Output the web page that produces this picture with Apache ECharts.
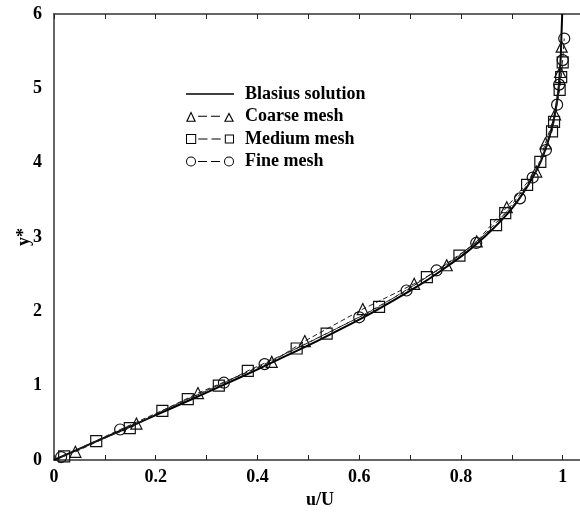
<!DOCTYPE html>
<html>
<head>
<meta charset="utf-8">
<script src="https://cdn.jsdelivr.net/npm/echarts@6/dist/echarts.min.js"></script>
<style>
  html, body { margin: 0; padding: 0; background: #fff; }
  #chart { width: 580px; height: 514px; }
</style>
</head>
<body>
<div id="chart"></div>
<script>
// Blasius profile: u/U against y*
const blasiusY = [0, 0.2, 0.4, 0.6, 0.8, 1.0, 1.2, 1.4, 1.6, 1.8, 2.0, 2.2, 2.4, 2.6, 2.8, 3.0,
  3.2, 3.4, 3.6, 3.8, 4.0, 4.2, 4.4, 4.6, 4.8, 5.0, 5.2, 5.4, 5.6, 5.8, 6.0];
const blasiusU = [0, 0.066, 0.133, 0.199, 0.265, 0.330, 0.394, 0.456, 0.517, 0.575, 0.630, 0.681,
  0.729, 0.772, 0.812, 0.846, 0.876, 0.902, 0.923, 0.941, 0.956, 0.967, 0.976, 0.983, 0.988,
  0.992, 0.994, 0.996, 0.997, 0.998, 0.999];

// coarse mesh (triangles)
const coarseU = [0.042, 0.162, 0.283, 0.428, 0.493, 0.607, 0.708, 0.772, 0.831, 0.890, 0.948,
  0.966, 0.985, 0.995, 0.998];
const coarseY = [0.11, 0.49, 0.90, 1.32, 1.60, 2.03, 2.37, 2.62, 2.94, 3.40, 3.88, 4.26, 4.65,
  5.22, 5.56];

// medium mesh (squares)
const mediumU = [0.020, 0.083, 0.149, 0.213, 0.263, 0.324, 0.381, 0.477, 0.536, 0.639, 0.733,
  0.797, 0.869, 0.887, 0.930, 0.956, 0.979, 0.983, 0.994, 0.997, 1.000];
const mediumY = [0.05, 0.255, 0.43, 0.66, 0.82, 1.00, 1.20, 1.50, 1.70, 2.06, 2.46, 2.75, 3.16,
  3.32, 3.70, 4.01, 4.42, 4.55, 4.98, 5.15, 5.35];

// fine mesh (circles)
const fineU = [0.014, 0.130, 0.334, 0.414, 0.600, 0.693, 0.752, 0.830, 0.916, 0.941, 0.967,
  0.989, 0.993, 1.000, 1.003];
const fineY = [0.04, 0.41, 1.04, 1.29, 1.92, 2.28, 2.55, 2.92, 3.52, 3.80, 4.17, 4.78, 5.05,
  5.38, 5.67];

const xTicks = [0, 0.1, 0.2, 0.3, 0.4, 0.5, 0.6, 0.7, 0.8, 0.9, 1];
const xLabels = [0, 0.2, 0.4, 0.6, 0.8, 1];

const pairs = (xs, ys) => xs.map((x, i) => [x, ys[i]]);

const font = 'Liberation Serif';

// legend icons: marker - dash - dash - marker
const iconLine = 'path://M6 5.4 L47 5.4 L47 6.6 L6 6.6 Z';
const iconTri = 'path://M0 11.5 L5 1 L10 11.5 Z M1.8 10.5 L8.2 10.5 L5 3.6 Z' +
  'M12 5.5 L21 5.5 L21 6.5 L12 6.5 Z M25 5.5 L34 5.5 L34 6.5 L25 6.5 Z' +
  'M38 11.5 L43 2 L48 11.5 Z M39.8 10.5 L46.2 10.5 L43 4.6 Z';
const iconSq = 'path://M0 1 L10 1 L10 11 L0 11 Z M1 2 L1 10 L9 10 L9 2 Z' +
  'M12 5.5 L21 5.5 L21 6.5 L12 6.5 Z M25 5.5 L34 5.5 L34 6.5 L25 6.5 Z' +
  'M38 1.5 L47 1.5 L47 10.5 L38 10.5 Z M39 2.5 L39 9.5 L46 9.5 L46 2.5 Z';
const iconCirc = 'path://M0 6 A5 5 0 1 1 10 6 A5 5 0 1 1 0 6 Z M1 6 A4 4 0 1 0 9 6 A4 4 0 1 0 1 6 Z' +
  'M12 5.5 L21 5.5 L21 6.5 L12 6.5 Z M25 5.5 L34 5.5 L34 6.5 L25 6.5 Z' +
  'M38 6 A5 5 0 1 1 48 6 A5 5 0 1 1 38 6 Z M39 6 A4 4 0 1 0 47 6 A4 4 0 1 0 39 6 Z';

const legendStyle = { color: '#000', borderWidth: 0 };

const chart = echarts.init(document.getElementById('chart'));

const meshSeries = (name, symbol, xs, ys) => ({
  name: name,
  type: 'line',
  data: pairs(xs, ys),
  symbol: symbol,
  symbolSize: 11,
  showAllSymbol: true,
  lineStyle: { color: '#222', width: 1, type: [5, 3] },
  itemStyle: { color: 'rgba(0,0,0,0)', borderColor: '#111', borderWidth: 1.2 },
  emphasis: { disabled: true },
  z: 3
});

chart.setOption({
  animation: false,
  backgroundColor: '#fff',
  grid: { left: 54, right: 0, top: 14, bottom: 54, outerBoundsMode: 'none' },
  legend: {
    orient: 'vertical',
    left: 186,
    top: 85,
    padding: 0,
    itemGap: 4.5,
    itemWidth: 48,
    itemHeight: 12,
    itemStyle: legendStyle,
    textStyle: { fontFamily: font, fontWeight: 'bold', fontSize: 18, color: '#000', padding: [0, 0, 0, 6] },
    data: [
      { name: 'Blasius solution', icon: iconLine, itemStyle: legendStyle },
      { name: 'Coarse mesh', icon: iconTri, itemStyle: legendStyle },
      { name: 'Medium mesh', icon: iconSq, itemStyle: legendStyle },
      { name: 'Fine mesh', icon: iconCirc, itemStyle: legendStyle }
    ]
  },
  xAxis: [{
    type: 'value',
    min: 0,
    max: 1.034,
    name: 'u/U',
    nameLocation: 'middle',
    nameGap: 31,
    nameMoveOverlap: false,
    nameTextStyle: { fontFamily: font, fontWeight: 'bold', fontSize: 18, color: '#000', padding: [0, 0, 0, 6] },
    axisLine: { lineStyle: { color: '#333', width: 1.5 } },
    axisTick: { inside: true, length: 5, customValues: xTicks, lineStyle: { color: '#222' } },
    axisLabel: { customValues: xLabels, margin: 8, fontFamily: font, fontWeight: 'bold', fontSize: 18, color: '#000' },
    splitLine: { show: false }
  }, {
    type: 'value',
    position: 'top',
    min: 0,
    max: 1.034,
    axisLine: { onZero: false, lineStyle: { color: '#333', width: 1.5 } },
    axisTick: { inside: true, length: 5, customValues: xTicks, lineStyle: { color: '#222' } },
    axisLabel: { show: false },
    splitLine: { show: false }
  }],
  yAxis: {
    type: 'value',
    min: 0,
    max: 6,
    interval: 1,
    name: 'y*',
    nameLocation: 'middle',
    nameRotate: 90,
    nameGap: 21,
    nameMoveOverlap: false,
    nameTextStyle: { fontFamily: font, fontWeight: 'bold', fontSize: 18, color: '#000', padding: [6, 0, 0, 0] },
    axisLine: { show: true, lineStyle: { color: '#333', width: 1.5 } },
    axisTick: { show: false },
    axisLabel: { margin: 12, fontFamily: font, fontWeight: 'bold', fontSize: 18, color: '#000' },
    splitLine: { show: false }
  },
  series: [{
    name: 'Blasius solution',
    type: 'line',
    data: pairs(blasiusU, blasiusY),
    smooth: 0.3,
    symbol: 'none',
    lineStyle: { color: '#000', width: 2 },
    itemStyle: { color: '#000' },
    emphasis: { disabled: true },
    z: 2
  },
    meshSeries('Coarse mesh', 'triangle', coarseU, coarseY),
    meshSeries('Medium mesh', 'rect', mediumU, mediumY),
    meshSeries('Fine mesh', 'circle', fineU, fineY)
  ]
});
</script>
</body>
</html>
